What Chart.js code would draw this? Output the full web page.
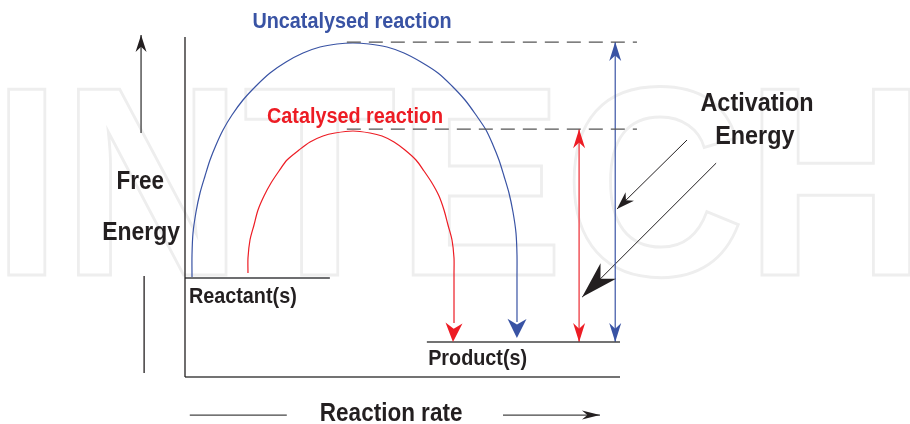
<!DOCTYPE html>
<html><head><meta charset="utf-8">
<script src="https://cdn.jsdelivr.net/npm/chart.js@4/dist/chart.umd.min.js"></script>
<style>html,body{margin:0;padding:0;background:#fff;}#wrap{width:910px;height:424px;position:relative;}</style>
</head><body><div id="wrap"><canvas id="c"></canvas></div>
<script>
// x: reaction coordinate (0-100 along the axis), y: free energy (0-100 along the axis)
const uncatX = [1.61,1.61,1.84,2.53,3.45,4.60,5.75,7.13,8.74,10.80,13.33,16.32,19.54,23.22,27.13,31.03,34.94,38.62,42.30,46.44,50.34,54.25,58.16,61.38,64.37,66.90,69.20,70.80,72.18,73.33,74.48,75.40,76.09,76.32,76.32,76.32,76.32];
const uncatY = [29.41,35.88,42.35,48.53,54.12,59.12,63.82,68.24,72.65,77.06,81.47,85.59,89.41,92.65,95.29,97.06,97.94,98.24,97.94,97.06,95.29,92.65,89.41,85.59,81.47,77.06,72.65,68.24,63.82,59.12,54.12,48.53,42.35,35.88,29.41,22.65,16.18];
const catX = [14.48,14.48,14.94,15.86,16.78,18.16,19.77,21.61,23.45,26.21,28.74,31.72,34.48,38.62,42.53,45.29,48.05,50.57,53.10,54.94,56.78,58.39,59.54,60.46,61.38,61.84,61.84,61.84,61.84];
const catY = [30.59,35.00,40.29,44.71,49.12,53.24,57.06,60.59,63.82,66.76,69.12,70.88,71.76,72.35,71.76,70.88,69.12,66.76,63.82,60.59,57.06,53.24,49.12,44.71,40.29,35.00,30.59,22.65,15.88];
const uncatTip = [76.3, 11.5];
const catTip = [61.6, 10.3];

const reactantEnergy = 29.1;
const productEnergy = 10.3;
const uncatalysedPeak = 98.5;
const catalysedPeak = 72.9;
const reactantSpan = [0, 33.3];
const productSpan = [55.6, 100];
const peakLineSpan = [37.2, 103.9];
const uncatArrowX = 98.9;
const catArrowX = 90.6;

const pointerSmallTail = [115.4, 69.7], pointerSmallTip = [99.3, 49.4];
const pointerBigTail = [122.1, 62.9], pointerBigTip = [91.3, 23.5];

const energyAxisUpX = -10.1, energyAxisUp = [71.8, 100.6];
const energyAxisLowX = -9.4, energyAxisLow = [1.2, 29.7];
const rateAxisY = -11.2, rateLeft = [1.1, 23.4], rateRight = [73.1, 95.4];

const labelTexts = ["Uncatalysed reaction","Catalysed reaction","Activation","Energy","Free","Energy","Reactant(s)","Product(s)","Reaction rate"];
const labelX = [38.4, 39.1, 131.5, 131.0, -10.3, -10.1, 0.9, 55.9, 31.0];
const labelY = [102.6, 74.7, 78.2, 68.5, 55.3, 40.3, 21.8, 3.5, -12.9];

// styles
const BLUE = '#3953a4', RED = '#ed1c24', INK = '#231f20';
const labelStyle = [
  {c:BLUE,s:22,a:'center'},{c:RED,s:22,a:'center'},{c:INK,s:26,a:'center'},{c:INK,s:26,a:'center'},
  {c:INK,s:25,a:'center'},{c:INK,s:25.5,a:'center'},{c:INK,s:22,a:'left'},{c:INK,s:22,a:'left'},{c:INK,s:25,a:'left'}
];

const pts = (xs, ys) => xs.map((x,i)=>({x, y:ys[i]}));
const hLine = (y, span) => [{x:span[0],y},{x:span[1],y}];
const vLine = (x, span) => [{x,y:span[0]},{x,y:span[1]}];
const seg = (a,b) => [{x:a[0],y:a[1]},{x:b[0],y:b[1]}];

function ds(data, color, width, extra){
  return Object.assign({data, borderColor:color, borderWidth:width, showLine:true, pointRadius:0, fill:false, clip:false, tension:0}, extra||{});
}

const datasets = [
  ds(vLine(0,[0,100]), INK, 1.3),
  ds(hLine(0,[0,100]), '#444', 1.5),
  ds(hLine(reactantEnergy, reactantSpan), '#6d6e70', 2),
  ds(hLine(productEnergy, productSpan), '#444', 1.5),
  ds(hLine(uncatalysedPeak, peakLineSpan), '#555', 1.3, {borderDash:[14,8]}),
  ds(hLine(catalysedPeak, peakLineSpan), '#555', 1.3, {borderDash:[14,8]}),
  ds(pts(uncatX, uncatY), BLUE, 1.2, {tension:0.3}),
  ds(pts(catX, catY), RED, 1.2, {tension:0.3}),
  ds(vLine(uncatArrowX,[productEnergy, uncatalysedPeak]), BLUE, 1.2),
  ds(vLine(catArrowX,[productEnergy, catalysedPeak]), '#f0545a', 1.5),
  ds(seg(pointerSmallTail, pointerSmallTip), INK, 1),
  ds(seg(pointerBigTail, pointerBigTip), INK, 1),
  ds(vLine(energyAxisUpX, energyAxisUp), '#555', 1.5),
  ds(vLine(energyAxisLowX, energyAxisLow), INK, 1.3),
  ds(hLine(rateAxisY, rateLeft), '#444', 1.3),
  ds(hLine(rateAxisY, rateRight), '#444', 1.3)
];

function head(ctx, t, f, len, w, color, notch){
  const dx=t[0]-f[0], dy=t[1]-f[1], d=Math.hypot(dx,dy)||1;
  const ux=dx/d, uy=dy/d, px=-uy, py=ux;
  const bx=t[0]-ux*len, by=t[1]-uy*len;
  const n = notch==null?0.25:notch;
  ctx.beginPath();
  ctx.moveTo(t[0],t[1]);
  ctx.lineTo(bx+px*w/2, by+py*w/2);
  ctx.lineTo(t[0]-ux*len*(1-n), t[1]-uy*len*(1-n));
  ctx.lineTo(bx-px*w/2, by-py*w/2);
  ctx.closePath();
  ctx.fillStyle=color; ctx.fill();
}

const diagram = {
  id:'diagram',
  beforeDatasetsDraw(chart){
    const ctx=chart.ctx, xs=chart.scales.x, ys=chart.scales.y;
    ctx.save();
    ctx.translate(xs.getPixelForValue(-44.4), ys.getPixelForValue(30.0));
    ctx.scale(0.93,1);
    ctx.font='bold 270px "Liberation Sans", Arial, sans-serif';
    ctx.textAlign='left'; ctx.textBaseline='alphabetic';
    ctx.strokeStyle='#eeeeee'; ctx.lineWidth=3;
    ctx.strokeText('INTECH',0,0);
    ctx.restore();
  },
  afterDatasetsDraw(chart){
    const ctx=chart.ctx, xs=chart.scales.x, ys=chart.scales.y;
    const P = (a)=>[xs.getPixelForValue(a[0]), ys.getPixelForValue(a[1])];
    ctx.save();
    const uEnd=[uncatX[uncatX.length-1], uncatY[uncatY.length-1]];
    const cEnd=[catX[catX.length-1], catY[catY.length-1]];
    head(ctx, P(uncatTip), P(uEnd), 19, 19, BLUE, 0.3);
    head(ctx, P(catTip), P(cEnd), 19, 17, RED, 0.3);
    head(ctx, P([uncatArrowX, uncatalysedPeak]), P([uncatArrowX, productEnergy]), 19, 12, BLUE, 0.3);
    head(ctx, P([uncatArrowX, productEnergy]), P([uncatArrowX, uncatalysedPeak]), 19, 12, BLUE, 0.3);
    head(ctx, P([catArrowX, catalysedPeak]), P([catArrowX, productEnergy]), 19, 12, RED, 0.3);
    head(ctx, P([catArrowX, productEnergy]), P([catArrowX, catalysedPeak]), 19, 12, RED, 0.3);
    head(ctx, P(pointerSmallTip), P(pointerSmallTail), 18, 12, INK, 0.3);
    head(ctx, P(pointerBigTip), P(pointerBigTail), 37, 22, INK, 0.3);
    head(ctx, P([energyAxisUpX, energyAxisUp[1]]), P([energyAxisUpX, energyAxisUp[0]]), 17, 11, INK, 0.3);
    head(ctx, P([rateRight[1], rateAxisY]), P([rateRight[0], rateAxisY]), 18, 9, INK, 0.3);
    labelTexts.forEach((t,i)=>{
      const st=labelStyle[i];
      ctx.save();
      ctx.translate(xs.getPixelForValue(labelX[i]), ys.getPixelForValue(labelY[i]));
      ctx.scale(0.9,1);
      ctx.font='bold '+st.s+'px "Liberation Sans", Arial, sans-serif';
      ctx.fillStyle=st.c; ctx.textAlign=st.a; ctx.textBaseline='alphabetic';
      ctx.fillText(t,0,0);
      ctx.restore();
    });
    ctx.restore();
  }
};

new Chart(document.getElementById('c'), {
  type:'scatter',
  data:{datasets},
  options:{
    responsive:true, maintainAspectRatio:false, animation:false,
    layout:{padding:{left:185,right:290,top:37,bottom:47}},
    scales:{
      x:{type:'linear',min:0,max:100,display:false},
      y:{type:'linear',min:0,max:100,display:false}
    },
    plugins:{legend:{display:false},tooltip:{enabled:false}},
    events:[]
  },
  plugins:[diagram]
});
</script></body></html>
